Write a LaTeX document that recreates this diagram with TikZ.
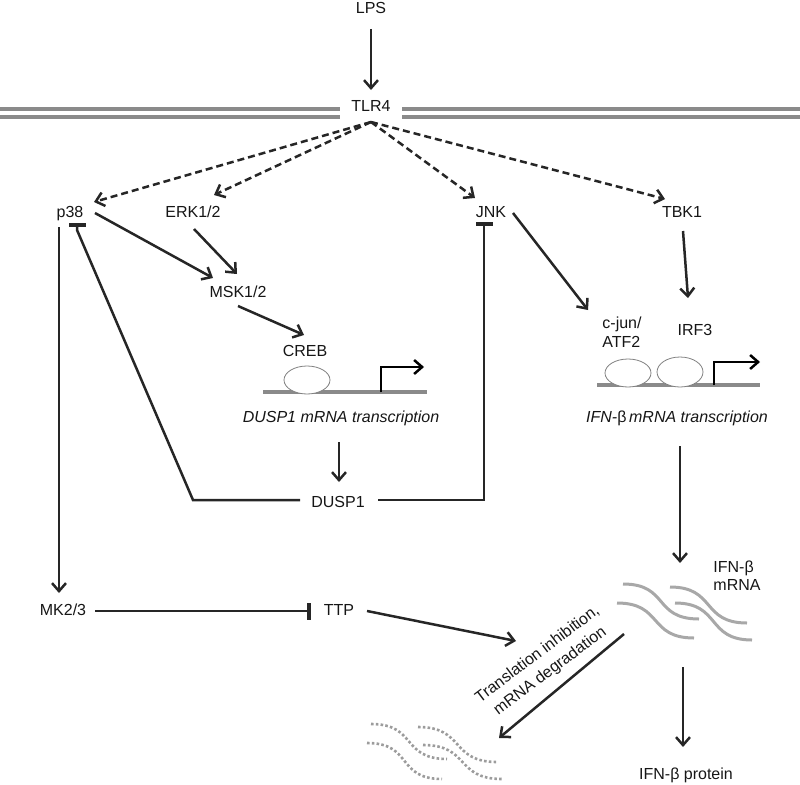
\documentclass[tikz,border=0pt]{standalone}
\usepackage{fontspec}
\setmainfont{Liberation Sans}
\usetikzlibrary{arrows.meta}
\definecolor{ink}{HTML}{262626}
\definecolor{txt}{HTML}{161616}
\definecolor{memb}{HTML}{8A8A8A}
\definecolor{rna}{HTML}{A8A8A8}
\definecolor{drna}{HTML}{9C9C9C}
\begin{document}
\begin{tikzpicture}[x=1pt,y=-1pt,
  lbl/.style={font=\fontsize{16}{19}\selectfont, text=txt, inner sep=0pt, text height=11.5pt, text depth=3.5pt},
  ml/.style={font=\fontsize{16}{19}\selectfont, text=txt, inner sep=0pt},
  act/.style={draw=ink, line width=2.5pt, -{Straight Barb[length=8pt,width=14pt]}},
  dsh/.style={act, dash pattern=on 7pt off 4pt},
  inh/.style={draw=ink, line width=2.5pt, -{Rectangle[length=4pt,width=17pt]}},
  membrane/.style={draw=memb, line width=3.5pt},
  dna/.style={draw=memb, line width=4.5pt},
  tf/.style={draw=gray, line width=0.8pt, fill=white},
  tss/.style={draw=black, line width=2.5pt, -{Straight Barb[length=8pt,width=14pt]}},
  squig/.style={draw=rna, line width=3pt},
  dsquig/.style={draw=drna, line width=2.6pt, dash pattern=on 2.6pt off 2.2pt}
]
\useasboundingbox (0,0) rectangle (800,784);

% membrane
\draw[membrane] (0,109) -- (340,109) (402,109) -- (800,109);
\draw[membrane] (0,117) -- (340,117) (402,117) -- (800,117);

% labels
\node[lbl] (lps) at (371,10) {LPS};
\node[lbl] (tlr4) at (371,107) {TLR4};
\node[lbl] (p38) at (70,213) {p38};
\node[lbl] (erk) at (193,213) {ERK1/2};
\node[lbl] (jnk) at (491,213) {JNK};
\node[lbl] (tbk1) at (682,213) {TBK1};
\node[lbl] (msk) at (238,293) {MSK1/2};
\node[lbl] (creb) at (305,352) {CREB};
\node[lbl] (dusptx) at (341,418) {\itshape DUSP1 mRNA transcription};
\node[lbl] (dusp1) at (338,503) {DUSP1};
\node[lbl] (mk) at (63,611) {MK2/3};
\node[lbl] (ttp) at (339,611) {TTP};
\node[ml, align=left] (cjun) at (622,332) {c-jun/\\ATF2};
\node[lbl] (irf3) at (695,331) {IRF3};
\node[lbl] (ifntx) at (677,418) {\itshape IFN-{\upshape β}\,mRNA transcription};
\node[ml, align=left, font=\fontsize{16}{18}\selectfont] (mrnalbl) at (737,576) {IFN-β\\mRNA};
\node[lbl] (protein) at (686,775) {IFN-β protein};
\node[ml, align=center, font=\fontsize{16}{21}\selectfont, rotate=37] (transl) at (544,663) {Translation inhibition,\\mRNA degradation};

\coordinate (hub) at ([shift={(0,15)}]tlr4.center);
\coordinate (mrna) at (683,611);
\coordinate (deg) at (434,751);

% DUSP1 promoter
\draw[dna] (263,392) -- (427,392);
\draw[tf] (307,380) ellipse [x radius=23, y radius=14];
\draw[tss] (381,392) -- (381,367) -- (424,367);

% IFN promoter
\draw[dna] (597,385) -- (760,385);
\draw[tf] (628,373) ellipse [x radius=23, y radius=14];
\draw[tf] (680,372) ellipse [x radius=23, y radius=15];
\draw[tss] (714,385) -- (714,362) -- (760,362);

% mRNA squiggles
\draw[squig] (623,584) .. controls (669,584) and (653,619) .. (699,619);
\draw[squig] (617,603) .. controls (663,603) and (648,638) .. (694,638);
\draw[squig] (670,587) .. controls (716,587) and (701,623) .. (747,623);
\draw[squig] (675,603) .. controls (721,603) and (706,640) .. (752,640);

% degraded mRNA
\draw[dsquig] (371,724) .. controls (417,724) and (401,759) .. (447,759);
\draw[dsquig] (367,743) .. controls (413,743) and (396,779) .. (442,779);
\draw[dsquig] (418,727) .. controls (465,727) and (450,762) .. (497,762);
\draw[dsquig] (423,745) .. controls (470,745) and (455,779) .. (502,779);

% connectors
\draw[act] ([shift={(0,19)}]lps.center) -- ([shift={(0,-17)}]tlr4.center);
\draw[dsh] (hub) -- ([shift={(24,-11)}]p38.center);
\draw[dsh] (hub) -- ([shift={(21,-18)}]erk.center);
\draw[dsh] (hub) -- ([shift={(-16,-15)}]jnk.center);
\draw[dsh] (hub) -- ([shift={(-17,-14)}]tbk1.center);
\draw[act] ([shift={(25,0)}]p38.center) -- ([shift={(-25,-15)}]msk.center);
\draw[act] ([shift={(1,16)}]erk.center) -- ([shift={(-1,-19)}]msk.center);
\draw[act] ([shift={(0,13)}]msk.center) -- ([shift={(-1,-17)}]creb.center);
\draw[act] ([shift={(-11,14)}]p38.center) -- ([shift={(-4,-18)}]mk.center);
\draw[inh] ([shift={(-38,-3)}]dusp1.center) -- ++(-107,0) -- ([shift={(7,17)}]p38.center) -- ([shift={(7,10)}]p38.center);
\draw[inh] ([shift={(40,-3)}]dusp1.center) -| ([shift={(-7,9)}]jnk.center);
\draw[act] ([shift={(-2,24)}]dusptx.center) -- ([shift={(1,-21)}]dusp1.center);
\draw[act] ([shift={(22,0)}]jnk.center) -- ([shift={(-34,-22)}]cjun.center);
\draw[act] ([shift={(1,18)}]tbk1.center) -- ([shift={(-7,-33)}]irf3.center);
\draw[act] ([shift={(3,28)}]ifntx.center) -- ([shift={(-3,-48)}]mrna);
\draw[act] ([shift={(0,56)}]mrna) -- ([shift={(-3,-28)}]protein.center);
\draw[inh] ([shift={(32,0)}]mk.center) -- ([shift={(-28,0)}]ttp.center);
\draw[act] ([shift={(28,0)}]ttp.center) -- ([shift={(-28,-22)}]transl.center);
\draw[act] ([shift={(-59,23)}]mrna) -- ([shift={(65,-13)}]deg);
\end{tikzpicture}
\end{document}
